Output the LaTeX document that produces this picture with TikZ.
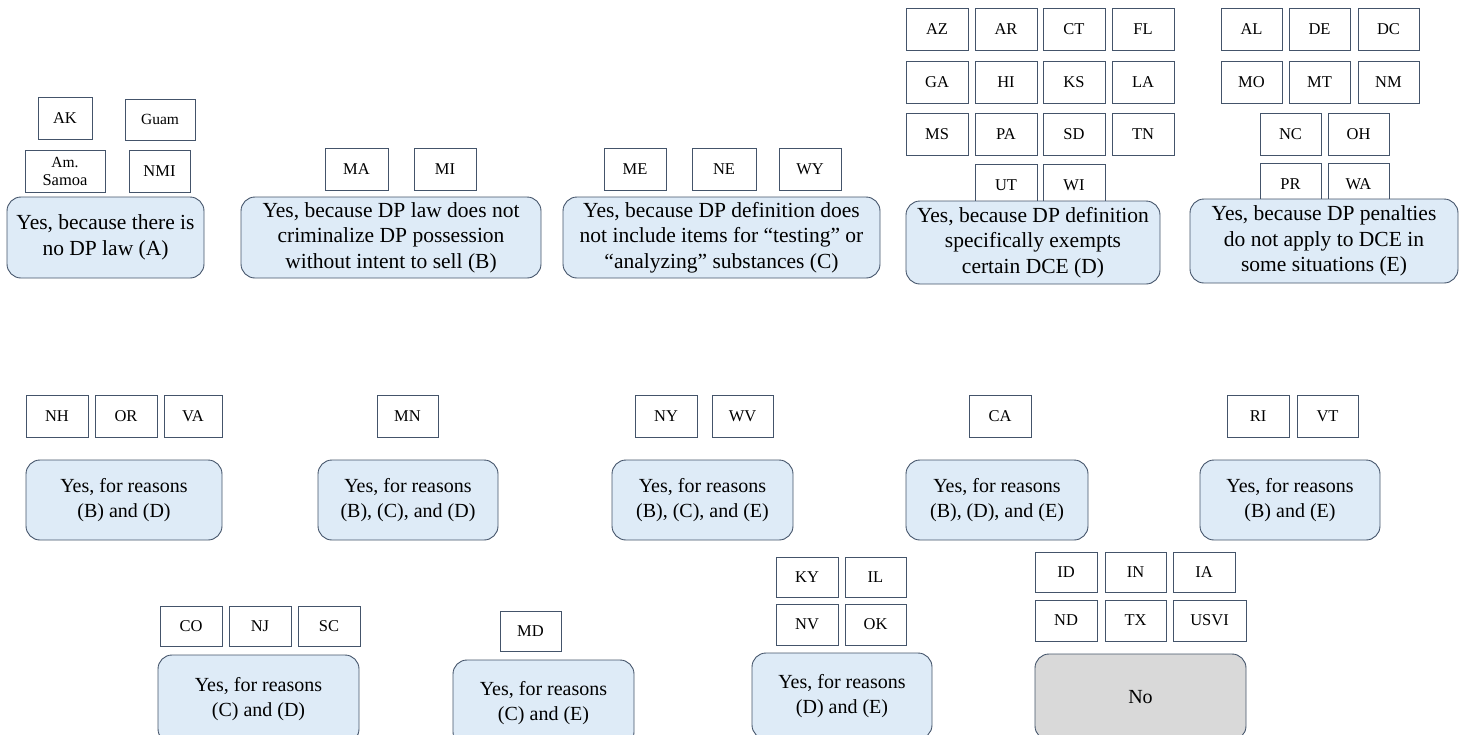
\documentclass[tikz,border=0pt]{standalone}
\usepackage{fontspec}
\setmainfont[Ligatures=TeX]{Liberation Serif}
\definecolor{bd}{HTML}{44546A}
\definecolor{bl}{HTML}{DEEBF7}
\definecolor{gr}{HTML}{D9D9D9}
\tikzset{
 st/.style={draw=bd, line width=0.9pt, fill=white, inner sep=0pt, font=\fontsize{16.5}{18}\selectfont, align=center},
 mb/.style={draw=bd, line width=0.9pt, fill=bl, rounded corners=14pt, inner sep=0pt, font=\fontsize{21.5}{25.5}\selectfont, align=center},
 rb/.style={mb, font=\fontsize{20}{25}\selectfont},
 nb/.style={rb, fill=gr},
}
\newcommand\SB[6]{\node[st, minimum width={(#4-#2)*1pt}, minimum height={(#5-#3)*1pt}] (#1) at ({(#2+#4)/2},{(#3+#5)/2}) {#6};}
\newcommand\MB[7]{\node[#7, minimum width={(#4-#2)*1pt}, minimum height={(#5-#3)*1pt}] (#1) at ({(#2+#4)/2},{(#3+#5)/2}) {#6};}
\begin{document}
\begin{tikzpicture}[x=1pt,y=-1pt]
\useasboundingbox (0,0) rectangle (1465,734);
% Row 1
\SB{AK}{38}{97}{92}{139}{AK}
\SB{Guam}{125}{99}{195}{140}{\fontsize{15.5}{17}\selectfont Guam}
\SB{AmS}{25}{150}{105}{192}{\fontsize{15.5}{15}\selectfont Am.\\Samoa}
\SB{NMI}{129}{150}{190}{192}{NMI}
\MB{A}{7}{197}{204}{278}{Yes, because there is\\no DP law (A)}{mb}
\SB{MA}{325}{148}{388}{190}{MA}
\SB{MI}{414}{148}{476}{190}{MI}
\MB{B}{241}{197}{541}{278}{Yes, because DP law does not\\criminalize DP possession\\without intent to sell (B)}{mb}
\SB{ME}{604}{148}{666}{190}{ME}
\SB{NE}{692}{148}{756}{190}{NE}
\SB{WY}{779}{148}{841}{190}{WY}
\MB{C}{563}{197}{880}{278}{Yes, because DP definition does\\not include items for “testing” or\\“analyzing” substances (C)}{mb}
\SB{AZ}{906}{8}{968}{50}{AZ}
\SB{AR}{975}{8}{1037}{50}{AR}
\SB{CT}{1043}{8}{1105}{50}{CT}
\SB{FL}{1112}{8}{1174}{50}{FL}
\SB{GA}{906}{61}{968}{103}{GA}
\SB{HI}{975}{61}{1037}{103}{HI}
\SB{KS}{1043}{61}{1105}{103}{KS}
\SB{LA}{1112}{61}{1174}{103}{LA}
\SB{MS}{906}{113}{968}{155}{MS}
\SB{PA}{975}{113}{1037}{155}{PA}
\SB{SD}{1043}{113}{1105}{155}{SD}
\SB{TN}{1112}{113}{1174}{155}{TN}
\SB{UT}{975}{164}{1037}{206}{UT}
\SB{WI}{1043}{164}{1105}{206}{WI}
\MB{D}{906}{201}{1160}{284}{Yes, because DP definition\\specifically exempts\\certain DCE (D)}{mb}
\SB{AL}{1221}{8}{1282}{50}{AL}
\SB{DE}{1289}{8}{1350}{50}{DE}
\SB{DC}{1358}{8}{1419}{50}{DC}
\SB{MO}{1221}{61}{1282}{103}{MO}
\SB{MT}{1289}{61}{1350}{103}{MT}
\SB{NM}{1358}{61}{1419}{103}{NM}
\SB{NC}{1260}{113}{1321}{155}{NC}
\SB{OH}{1328}{113}{1389}{155}{OH}
\SB{PR}{1260}{163}{1321}{205}{PR}
\SB{WA}{1328}{163}{1389}{205}{WA}
\MB{E}{1190}{199}{1458}{283}{Yes, because DP penalties\\do not apply to DCE in\\some situations (E)}{mb}
% Row 2
\SB{NH}{26}{395}{88}{437}{NH}
\SB{OR}{95}{395}{157}{437}{OR}
\SB{VA}{164}{395}{222}{437}{VA}
\MB{BD}{26}{460}{222}{540}{Yes, for reasons\\(B) and (D)}{rb}
\SB{MN}{377}{395}{438}{437}{MN}
\MB{BCD}{318}{460}{498}{540}{Yes, for reasons\\(B), (C), and (D)}{rb}
\SB{NY}{635}{395}{697}{437}{NY}
\SB{WV}{712}{395}{773}{437}{WV}
\MB{BCE}{612}{460}{793}{540}{Yes, for reasons\\(B), (C), and (E)}{rb}
\SB{CA}{969}{395}{1031}{437}{CA}
\MB{BDE}{906}{460}{1088}{540}{Yes, for reasons\\(B), (D), and (E)}{rb}
\SB{RI}{1227}{395}{1289}{437}{RI}
\SB{VT}{1297}{395}{1358}{437}{VT}
\MB{BE}{1200}{460}{1380}{540}{Yes, for reasons\\(B) and (E)}{rb}
% Row 3
\SB{CO}{160}{606}{222}{646}{CO}
\SB{NJ}{229}{606}{291}{646}{NJ}
\SB{SC}{298}{606}{360}{646}{SC}
\MB{CD}{158}{655}{359}{743}{Yes, for reasons\\(C) and (D)}{rb}
\SB{MD}{500}{611}{561}{651}{MD}
\MB{CE}{453}{660}{634}{746}{Yes, for reasons\\(C) and (E)}{rb}
\SB{KY}{776}{557}{838}{597}{KY}
\SB{IL}{845}{557}{906}{597}{IL}
\SB{NV}{776}{604}{838}{645}{NV}
\SB{OK}{845}{604}{906}{645}{OK}
\MB{DE2}{752}{653}{932}{739}{Yes, for reasons\\(D) and (E)}{rb}
\SB{ID}{1035}{552}{1097}{592}{ID}
\SB{IN}{1105}{552}{1166}{592}{IN}
\SB{IA}{1173}{552}{1235}{592}{IA}
\SB{ND}{1035}{600}{1097}{641}{ND}
\SB{TX}{1105}{600}{1166}{641}{TX}
\SB{USVI}{1173}{600}{1246}{641}{USVI}
\MB{No}{1035}{654}{1246}{740}{No}{nb}
\end{tikzpicture}
\end{document}
